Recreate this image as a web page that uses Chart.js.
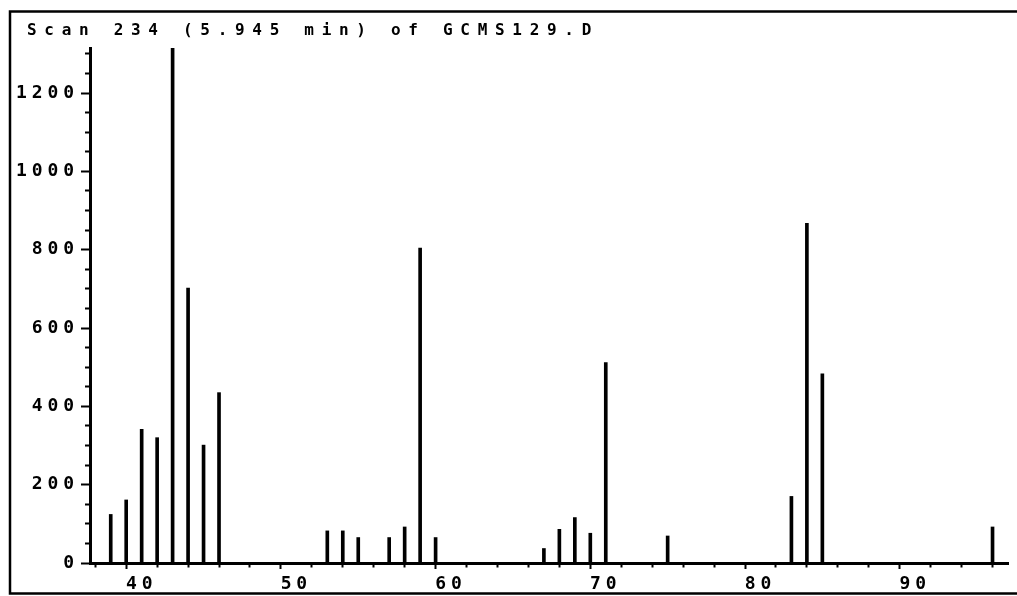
<!DOCTYPE html>
<html><head><meta charset="utf-8">
<script src="https://cdn.jsdelivr.net/npm/chart.js@4/dist/chart.umd.min.js"></script>
<style>html,body{margin:0;padding:0;background:#fff}#wrap{width:1017px;height:596px}</style>
</head><body><div id="wrap"><canvas id="c" width="1017" height="596"></canvas></div>
<script>
// m/z values and abundances
const masses = [38, 39, 40, 41, 42, 43, 44, 45, 52, 53, 54, 56, 57, 58, 59, 66, 67, 68, 69, 70, 74, 82, 83, 84, 95];
const abundances = [124, 161, 341, 320, 1315, 702, 301, 435, 82, 82, 65, 65, 92, 804, 65, 37, 86, 116, 76, 512, 69, 170, 867, 483, 92];
const titleText = 'Scan 234 (5.945 min) of GCMS129.D';
const xRange = [36.66, 96];
const yRange = [0, 1315];
const xTickStep = 2, xLabelStep = 10;
const yTickStep = 50, yLabelStep = 200;

const canvas = document.getElementById('c');
const ctx2d = canvas.getContext('2d');
// letter spacing to mimic the wide printer font
const fontDesc = Object.getOwnPropertyDescriptor(CanvasRenderingContext2D.prototype, 'font');
Object.defineProperty(ctx2d, 'font', {
  get() { return fontDesc.get.call(this); },
  set(v) { fontDesc.set.call(this, v); this.letterSpacing = /16px/.test(v) ? '7.7px' : '4.9px'; }
});

const framePlugin = {
  id: 'frame',
  afterLayout(chart) {
    if (chart.titleBlock) chart.titleBlock.left = 27;
  },
  afterDraw(chart) {
    const c = chart.ctx;
    c.save();
    c.strokeStyle = '#000';
    c.lineWidth = 2.5;
    c.strokeRect(10, 11.5, 1030, 582);
    c.restore();
  }
};

const tickFont = { family: "'DejaVu Sans Mono'", size: 18, weight: 'bold' };

new Chart(canvas, {
  type: 'bar',
  data: {
    datasets: [{
      data: masses.map((m, i) => ({ x: m, y: abundances[i] })),
      backgroundColor: '#000',
      borderWidth: 0,
      barThickness: 3
    }]
  },
  options: {
    responsive: false,
    animation: false,
    devicePixelRatio: 1,
    color: '#000',
    layout: { padding: { left: 11, right: 9, top: 12, bottom: 0 } },
    plugins: {
      legend: { display: false },
      tooltip: { enabled: false },
      title: {
        display: true,
        text: titleText,
        align: 'start',
        color: '#000',
        font: { family: "'DejaVu Sans Mono'", size: 16, weight: 'bold', lineHeight: 1.125 },
        padding: { top: 10, bottom: 8 }
      }
    },
    scales: {
      x: {
        type: 'linear',
        offset: false,
        min: xRange[0],
        max: xRange[1],
        afterFit(scale) { scale.height = 33; },
        border: { display: true, color: '#000', width: 3 },
        grid: {
          display: true,
          drawOnChartArea: false,
          drawTicks: true,
          tickLength: 6,
          tickWidth: 2,
          tickColor: '#000',
          tickBorderDash: (c) => (c.tick && c.tick.value % xLabelStep === 0) ? [] : [2.5, 20]
        },
        ticks: {
          stepSize: xTickStep,
          autoSkip: false,
          includeBounds: false,
          maxRotation: 0,
          padding: 5,
          color: '#000',
          font: tickFont,
          callback: (v) => (v % xLabelStep === 0 ? String(v) : '')
        }
      },
      y: {
        type: 'linear',
        min: yRange[0],
        max: yRange[1],
        afterFit(scale) { scale.width = 79; },
        border: { display: true, color: '#000', width: 3 },
        grid: {
          display: true,
          drawOnChartArea: false,
          drawTicks: true,
          tickLength: 9,
          tickWidth: 2,
          tickColor: '#000',
          tickBorderDash: (c) => (c.tick && c.tick.value % yLabelStep === 0) ? [] : [0, 4, 10, 10]
        },
        ticks: {
          stepSize: yTickStep,
          autoSkip: false,
          includeBounds: false,
          padding: 2,
          color: '#000',
          font: tickFont,
          callback: (v) => (v % yLabelStep === 0 ? String(v) : '')
        }
      }
    }
  },
  plugins: [framePlugin]
});
</script>
</body></html>
